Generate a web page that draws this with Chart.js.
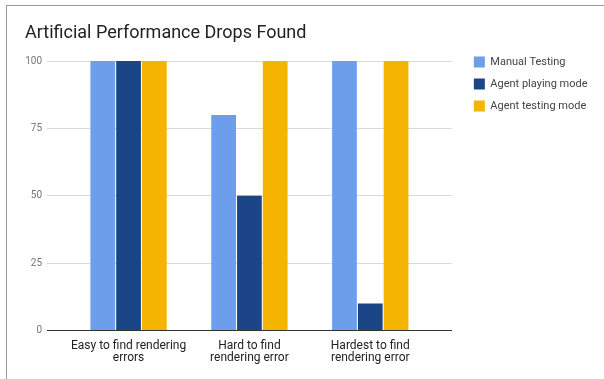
<!DOCTYPE html>
<html>
<head>
<meta charset="utf-8">
<script src="https://cdn.jsdelivr.net/npm/chart.js@4/dist/chart.umd.min.js"></script>
<style>
  html, body { margin: 0; padding: 0; background: #fff; }
  #frame {
    position: absolute; left: 6px; top: 5px;
    width: 597px; height: 373px;
    border-top: 1px solid #9c9c9c; border-left: 1px solid #9c9c9c;
  }
  canvas { display: block; }
</style>
</head>
<body>
<div id="frame"><canvas id="c" width="597" height="373"></canvas></div>
<script>
// Scenario categories (multi-line axis labels)
const categories = [
  ['Easy to find rendering', 'errors'],
  ['Hard to find', 'rendering error'],
  ['Hardest to find', 'rendering error']
];
// Percentage of artificial drops found per approach
const manualTesting = [100, 80, 100];
const agentPlaying  = [100, 50, 10];
const agentTesting  = [100, 100, 100];
// Value axis ticks
const yTicks = [0, 25, 50, 75, 100];

const FONT = 'Roboto';

const toPoints = vals => vals.map((v, i) => ({ x: i, y: v }));

// Nudges the legend block so it sits beside the top of the plot
const legendShift = {
  id: 'legendShift',
  afterLayout(chart) {
    const lg = chart.legend;
    lg.left += 11; lg.right += 11;
    lg.top -= 15.6; lg.bottom -= 15.6;
  }
};

new Chart(document.getElementById('c'), {
  type: 'bar',
  data: {
    datasets: [
      { label: 'Manual Testing', data: toPoints(manualTesting), backgroundColor: '#6d9eeb' },
      { label: 'Agent playing mode', data: toPoints(agentPlaying), backgroundColor: '#1c4587' },
      { label: 'Agent testing mode', data: toPoints(agentTesting), backgroundColor: '#f4b400' }
    ]
  },
  plugins: [legendShift],
  options: {
    responsive: false,
    animation: false,
    events: [],
    categoryPercentage: 0.64,
    barPercentage: 0.96,
    layout: { padding: { left: 18, right: 17.5, top: 0, bottom: 0 } },
    plugins: {
      title: {
        display: true,
        text: 'Artificial Performance Drops Found',
        align: 'start',
        color: '#222',
        font: { family: FONT, size: 18, weight: 'normal' },
        padding: { top: 17, bottom: 16.4 }
      },
      legend: {
        position: 'right',
        align: 'start',
        fullSize: false,
        labels: {
          color: '#444',
          font: { family: FONT, size: 11 },
          boxWidth: 11,
          boxHeight: 11,
          padding: 11
        }
      },
      tooltip: { enabled: false }
    },
    scales: {
      x: {
        type: 'linear',
        offset: false,
        min: -0.675,
        max: 2.675,
        grid: { display: false, drawTicks: false },
        border: { display: true, color: '#333', width: 1 },
        afterBuildTicks(scale) {
          scale.ticks = categories.map((_, i) => ({ value: i }));
        },
        afterFit(scale) { scale.height = 48.5; },
        ticks: {
          autoSkip: false,
          maxRotation: 0,
          padding: 9,
          color: '#222',
          font: { family: FONT, size: 12, lineHeight: 1.0 },
          callback: v => categories[v] || ''
        }
      },
      y: {
        min: 0,
        max: 100,
        border: { display: false },
        grid: {
          drawTicks: false,
          color: ctx => ctx.tick && ctx.tick.value === 0 ? '#333' : '#d9d9d9'
        },
        afterBuildTicks(scale) {
          scale.ticks = yTicks.map(v => ({ value: v }));
        },
        afterFit(scale) { scale.width = 22; },
        ticks: {
          padding: 5,
          color: '#757575',
          font: { family: FONT, size: 10 }
        }
      }
    }
  }
});
</script>
</body>
</html>
